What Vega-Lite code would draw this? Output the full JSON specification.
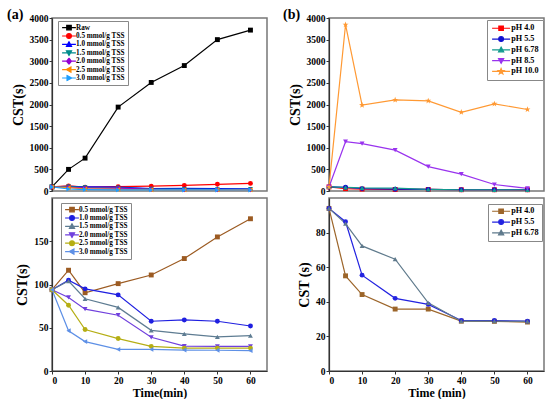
{
  "$schema": "https://vega.github.io/schema/vega-lite/v6.json",
  "padding": {"left": 6, "top": 7, "right": 4, "bottom": 2},
  "datasets": {
    "dose": [
      {"s": "Raw", "t": 0, "v": 94}, {"s": "Raw", "t": 5, "v": 500}, {"s": "Raw", "t": 10, "v": 760}, {"s": "Raw", "t": 20, "v": 1940}, {"s": "Raw", "t": 30, "v": 2510}, {"s": "Raw", "t": 40, "v": 2900}, {"s": "Raw", "t": 50, "v": 3500}, {"s": "Raw", "t": 60, "v": 3720},
      {"s": "0.5 mmol/g TSS", "t": 0, "v": 94}, {"s": "0.5 mmol/g TSS", "t": 5, "v": 116.5}, {"s": "0.5 mmol/g TSS", "t": 10, "v": 90.5}, {"s": "0.5 mmol/g TSS", "t": 20, "v": 101}, {"s": "0.5 mmol/g TSS", "t": 30, "v": 111}, {"s": "0.5 mmol/g TSS", "t": 40, "v": 130}, {"s": "0.5 mmol/g TSS", "t": 50, "v": 155}, {"s": "0.5 mmol/g TSS", "t": 60, "v": 176},
      {"s": "1.0 mmol/g TSS", "t": 0, "v": 94}, {"s": "1.0 mmol/g TSS", "t": 5, "v": 105}, {"s": "1.0 mmol/g TSS", "t": 10, "v": 95}, {"s": "1.0 mmol/g TSS", "t": 20, "v": 88}, {"s": "1.0 mmol/g TSS", "t": 30, "v": 57.5}, {"s": "1.0 mmol/g TSS", "t": 40, "v": 59}, {"s": "1.0 mmol/g TSS", "t": 50, "v": 57.5}, {"s": "1.0 mmol/g TSS", "t": 60, "v": 52},
      {"s": "1.5 mmol/g TSS", "t": 0, "v": 94}, {"s": "1.5 mmol/g TSS", "t": 5, "v": 104}, {"s": "1.5 mmol/g TSS", "t": 10, "v": 83.5}, {"s": "1.5 mmol/g TSS", "t": 20, "v": 73.5}, {"s": "1.5 mmol/g TSS", "t": 30, "v": 47}, {"s": "1.5 mmol/g TSS", "t": 40, "v": 43}, {"s": "1.5 mmol/g TSS", "t": 50, "v": 39.5}, {"s": "1.5 mmol/g TSS", "t": 60, "v": 41},
      {"s": "2.0 mmol/g TSS", "t": 0, "v": 94}, {"s": "2.0 mmol/g TSS", "t": 5, "v": 85}, {"s": "2.0 mmol/g TSS", "t": 10, "v": 71.5}, {"s": "2.0 mmol/g TSS", "t": 20, "v": 64.5}, {"s": "2.0 mmol/g TSS", "t": 30, "v": 39}, {"s": "2.0 mmol/g TSS", "t": 40, "v": 28.8}, {"s": "2.0 mmol/g TSS", "t": 50, "v": 28.5}, {"s": "2.0 mmol/g TSS", "t": 60, "v": 28.5},
      {"s": "2.5 mmol/g TSS", "t": 0, "v": 94}, {"s": "2.5 mmol/g TSS", "t": 5, "v": 76}, {"s": "2.5 mmol/g TSS", "t": 10, "v": 48}, {"s": "2.5 mmol/g TSS", "t": 20, "v": 37.5}, {"s": "2.5 mmol/g TSS", "t": 30, "v": 28.5}, {"s": "2.5 mmol/g TSS", "t": 40, "v": 26.5}, {"s": "2.5 mmol/g TSS", "t": 50, "v": 26.5}, {"s": "2.5 mmol/g TSS", "t": 60, "v": 26.5},
      {"s": "3.0 mmol/g TSS", "t": 0, "v": 94}, {"s": "3.0 mmol/g TSS", "t": 5, "v": 46.5}, {"s": "3.0 mmol/g TSS", "t": 10, "v": 34}, {"s": "3.0 mmol/g TSS", "t": 20, "v": 25}, {"s": "3.0 mmol/g TSS", "t": 30, "v": 25}, {"s": "3.0 mmol/g TSS", "t": 40, "v": 24.2}, {"s": "3.0 mmol/g TSS", "t": 50, "v": 24}, {"s": "3.0 mmol/g TSS", "t": 60, "v": 23.5}
    ],
    "ph": [
      {"s": "pH 4.0", "t": 0, "v": 94}, {"s": "pH 4.0", "t": 5, "v": 55}, {"s": "pH 4.0", "t": 10, "v": 44.2}, {"s": "pH 4.0", "t": 20, "v": 35.8}, {"s": "pH 4.0", "t": 30, "v": 35.8}, {"s": "pH 4.0", "t": 40, "v": 28.8}, {"s": "pH 4.0", "t": 50, "v": 28.7}, {"s": "pH 4.0", "t": 60, "v": 28.3},
      {"s": "pH 5.5", "t": 0, "v": 94}, {"s": "pH 5.5", "t": 5, "v": 86.3}, {"s": "pH 5.5", "t": 10, "v": 55.4}, {"s": "pH 5.5", "t": 20, "v": 42}, {"s": "pH 5.5", "t": 30, "v": 38.5}, {"s": "pH 5.5", "t": 40, "v": 29.2}, {"s": "pH 5.5", "t": 50, "v": 29.2}, {"s": "pH 5.5", "t": 60, "v": 28.8},
      {"s": "pH 6.78", "t": 0, "v": 94}, {"s": "pH 6.78", "t": 5, "v": 85.2}, {"s": "pH 6.78", "t": 10, "v": 72.3}, {"s": "pH 6.78", "t": 20, "v": 64.6}, {"s": "pH 6.78", "t": 30, "v": 39.4}, {"s": "pH 6.78", "t": 40, "v": 28.8}, {"s": "pH 6.78", "t": 50, "v": 28.8}, {"s": "pH 6.78", "t": 60, "v": 28.7},
      {"s": "pH 8.5", "t": 0, "v": 94}, {"s": "pH 8.5", "t": 5, "v": 1140}, {"s": "pH 8.5", "t": 10, "v": 1095}, {"s": "pH 8.5", "t": 20, "v": 945}, {"s": "pH 8.5", "t": 30, "v": 565}, {"s": "pH 8.5", "t": 40, "v": 390}, {"s": "pH 8.5", "t": 50, "v": 150}, {"s": "pH 8.5", "t": 60, "v": 60},
      {"s": "pH 10.0", "t": 0, "v": 94}, {"s": "pH 10.0", "t": 5, "v": 3845}, {"s": "pH 10.0", "t": 10, "v": 1985}, {"s": "pH 10.0", "t": 20, "v": 2105}, {"s": "pH 10.0", "t": 30, "v": 2085}, {"s": "pH 10.0", "t": 40, "v": 1820}, {"s": "pH 10.0", "t": 50, "v": 2015}, {"s": "pH 10.0", "t": 60, "v": 1885}
    ]
  },
  "config": {
    "font": "Liberation Serif",
    "view": {"stroke": "#777777", "strokeWidth": 1.5},
    "axis": {"labelFont": "Liberation Serif", "labelFontWeight": "bold", "labelFontSize": 9.5, "labelColor": "#000", "titleFont": "Liberation Serif", "titleFontWeight": "bold", "titleColor": "#000", "grid": false, "tickSize": 3, "labelPadding": 1, "domainColor": "#333", "domainWidth": 1.2, "tickColor": "#333", "format": "d"},
    "legend": {"labelFont": "Liberation Serif", "labelFontWeight": "bold", "labelColor": "#000", "strokeColor": "#888", "fillColor": "white", "padding": 4, "symbolSize": 36, "symbolOffset": 4, "orient": "none"},
    "title": {"font": "Liberation Serif", "fontSize": 14, "fontWeight": "bold", "color": "#000"},
    "line": {"strokeWidth": 1.2},
    "point": {"filled": true, "opacity": 1, "size": 24}
  },
  "spacing": 14,
  "resolve": {"scale": {"color": "independent", "x": "independent", "y": "independent"}, "legend": {"color": "independent"}},
  "hconcat": [
    {
      "spacing": 0,
      "resolve": {"scale": {"color": "independent", "x": "independent", "y": "independent"}, "legend": {"color": "independent"}},
      "vconcat": [
        {
          "width": 215, "height": 173,
          "title": {"text": "(a)", "anchor": "start", "frame": "group", "dx": -45, "offset": -9},
          "data": {"name": "dose"},
          "encoding": {
            "x": {"field": "t", "type": "quantitative", "scale": {"domain": [0, 65], "nice": false}, "axis": null},
            "y": {"field": "v", "type": "quantitative", "scale": {"domain": [0, 4000], "nice": false}, "axis": {"title": "CST(s)", "titleFontSize": 14, "titlePadding": 4, "values": [0, 500, 1000, 1500, 2000, 2500, 3000, 3500, 4000]}},
            "color": {"field": "s", "type": "nominal", "scale": {"domain": ["Raw", "0.5 mmol/g TSS", "1.0 mmol/g TSS", "1.5 mmol/g TSS", "2.0 mmol/g TSS", "2.5 mmol/g TSS", "3.0 mmol/g TSS"], "range": ["#000000", "#FF0000", "#0000FF", "#008B8B", "#9400D3", "#FF8C00", "#1E9FFF"]},
              "legend": {"title": null, "legendX": 6, "legendY": 3, "labelFontSize": 7.2, "clipHeight": 7.2, "rowPadding": -0.6, "labelOffset": 3, "padding": 3, "encode": {"symbols": {"update": {
                "shape": {"signal": "['M-2.3,0H2.3M-0.75,-0.75H0.75V0.75H-0.75Z','M-2.3,0H2.3M-0.8,0A0.8,0.8,0,1,1,0.8,0A0.8,0.8,0,1,1,-0.8,0Z','M-2.3,0H2.3M0,-0.9L0.85,0.65H-0.85Z','M-2.3,0H2.3M0,0.9L0.85,-0.65H-0.85Z','M-2.3,0H2.3M0,-1L0.8,0L0,1L-0.8,0Z','M-2.3,0H2.3M-0.9,0L0.65,-0.85V0.85Z','M-2.3,0H2.3M0.9,0L-0.65,-0.85V0.85Z'][indexof(['Raw','0.5 mmol/g TSS','1.0 mmol/g TSS','1.5 mmol/g TSS','2.0 mmol/g TSS','2.5 mmol/g TSS','3.0 mmol/g TSS'], datum.value)]"},
                "fill": {"signal": "['#000000','#FF0000','#0000FF','#008B8B','#9400D3','#FF8C00','#1E9FFF'][indexof(['Raw','0.5 mmol/g TSS','1.0 mmol/g TSS','1.5 mmol/g TSS','2.0 mmol/g TSS','2.5 mmol/g TSS','3.0 mmol/g TSS'], datum.value)]"},
                "stroke": {"signal": "['#000000','#FF0000','#0000FF','#008B8B','#9400D3','#FF8C00','#1E9FFF'][indexof(['Raw','0.5 mmol/g TSS','1.0 mmol/g TSS','1.5 mmol/g TSS','2.0 mmol/g TSS','2.5 mmol/g TSS','3.0 mmol/g TSS'], datum.value)]"},
                "strokeWidth": {"value": 1.2}, "opacity": {"value": 1}}}}}}
          },
          "layer": [
            {"mark": {"type": "line"}},
            {"transform": [{"filter": "datum.s === 'Raw'"}], "mark": {"type": "point", "shape": "square"}},
            {"transform": [{"filter": "datum.s === '0.5 mmol/g TSS'"}], "mark": {"type": "point", "shape": "circle"}},
            {"transform": [{"filter": "datum.s === '1.0 mmol/g TSS'"}], "mark": {"type": "point", "shape": "triangle-up"}},
            {"transform": [{"filter": "datum.s === '1.5 mmol/g TSS'"}], "mark": {"type": "point", "shape": "triangle-down"}},
            {"transform": [{"filter": "datum.s === '2.0 mmol/g TSS'"}], "mark": {"type": "point", "shape": "diamond"}},
            {"transform": [{"filter": "datum.s === '2.5 mmol/g TSS'"}], "mark": {"type": "point", "shape": "triangle-left"}},
            {"transform": [{"filter": "datum.s === '3.0 mmol/g TSS'"}], "mark": {"type": "point", "shape": "triangle-right"}}
          ]
        },
        {
          "width": 215, "height": 173,
          "data": {"name": "dose"},
          "transform": [{"filter": "datum.s !== 'Raw'"}],
          "encoding": {
            "x": {"field": "t", "type": "quantitative", "scale": {"domain": [0, 65], "nice": false}, "axis": {"title": "Time(min)", "titleFontSize": 12, "titlePadding": 3, "values": [0, 10, 20, 30, 40, 50, 60]}},
            "y": {"field": "v", "type": "quantitative", "scale": {"domain": [0, 200], "nice": false}, "axis": {"title": "CST(s)", "titleFontSize": 14, "titlePadding": 4, "values": [0, 50, 100, 150]}},
            "color": {"field": "s", "type": "nominal", "scale": {"domain": ["0.5 mmol/g TSS", "1.0 mmol/g TSS", "1.5 mmol/g TSS", "2.0 mmol/g TSS", "2.5 mmol/g TSS", "3.0 mmol/g TSS"], "range": ["#9C5B22", "#1F1FE0", "#5E7C92", "#7040DD", "#B5AE14", "#5E90E6"]},
              "legend": {"title": null, "legendX": 9, "legendY": 5, "labelFontSize": 7.2, "clipHeight": 7.2, "rowPadding": -0.6, "labelOffset": 3, "padding": 3, "encode": {"symbols": {"update": {
                "shape": {"signal": "['M-2.3,0H2.3M-0.75,-0.75H0.75V0.75H-0.75Z','M-2.3,0H2.3M-0.8,0A0.8,0.8,0,1,1,0.8,0A0.8,0.8,0,1,1,-0.8,0Z','M-2.3,0H2.3M0,-0.9L0.85,0.65H-0.85Z','M-2.3,0H2.3M0,0.9L0.85,-0.65H-0.85Z','M-2.3,0H2.3M-0.8,0A0.8,0.8,0,1,1,0.8,0A0.8,0.8,0,1,1,-0.8,0Z','M-2.3,0H2.3M-0.9,0L0.65,-0.85V0.85Z'][indexof(['0.5 mmol/g TSS','1.0 mmol/g TSS','1.5 mmol/g TSS','2.0 mmol/g TSS','2.5 mmol/g TSS','3.0 mmol/g TSS'], datum.value)]"},
                "fill": {"signal": "['#9C5B22','#1F1FE0','#5E7C92','#7040DD','#B5AE14','#5E90E6'][indexof(['0.5 mmol/g TSS','1.0 mmol/g TSS','1.5 mmol/g TSS','2.0 mmol/g TSS','2.5 mmol/g TSS','3.0 mmol/g TSS'], datum.value)]"},
                "stroke": {"signal": "['#9C5B22','#1F1FE0','#5E7C92','#7040DD','#B5AE14','#5E90E6'][indexof(['0.5 mmol/g TSS','1.0 mmol/g TSS','1.5 mmol/g TSS','2.0 mmol/g TSS','2.5 mmol/g TSS','3.0 mmol/g TSS'], datum.value)]"},
                "strokeWidth": {"value": 1.2}, "opacity": {"value": 1}}}}}}
          },
          "layer": [
            {"mark": {"type": "line"}},
            {"transform": [{"filter": "datum.s === '0.5 mmol/g TSS'"}], "mark": {"type": "point", "shape": "square"}},
            {"transform": [{"filter": "datum.s === '1.0 mmol/g TSS'"}], "mark": {"type": "point", "shape": "circle"}},
            {"transform": [{"filter": "datum.s === '1.5 mmol/g TSS'"}], "mark": {"type": "point", "shape": "triangle-up"}},
            {"transform": [{"filter": "datum.s === '2.0 mmol/g TSS'"}], "mark": {"type": "point", "shape": "triangle-down"}},
            {"transform": [{"filter": "datum.s === '2.5 mmol/g TSS'"}], "mark": {"type": "point", "shape": "circle"}},
            {"transform": [{"filter": "datum.s === '3.0 mmol/g TSS'"}], "mark": {"type": "point", "shape": "triangle-left"}}
          ]
        }
      ]
    },
    {
      "spacing": 0,
      "resolve": {"scale": {"color": "independent", "x": "independent", "y": "independent"}, "legend": {"color": "independent"}},
      "vconcat": [
        {
          "width": 215, "height": 173,
          "title": {"text": "(b)", "anchor": "start", "frame": "group", "dx": -46, "offset": -9},
          "data": {"name": "ph"},
          "encoding": {
            "x": {"field": "t", "type": "quantitative", "scale": {"domain": [0, 65], "nice": false}, "axis": null},
            "y": {"field": "v", "type": "quantitative", "scale": {"domain": [0, 4000], "nice": false}, "axis": {"title": "CST(s)", "titleFontSize": 14, "titlePadding": 4, "values": [0, 500, 1000, 1500, 2000, 2500, 3000, 3500, 4000]}},
            "color": {"field": "s", "type": "nominal", "scale": {"domain": ["pH 4.0", "pH 5.5", "pH 6.78", "pH 8.5", "pH 10.0"], "range": ["#FF0000", "#1010D0", "#129A8E", "#9933EE", "#FF9933"]},
              "legend": {"title": null, "legendX": 158, "legendY": 2, "labelFontSize": 8.2, "clipHeight": 8.5, "rowPadding": 0.8, "labelOffset": 6, "padding": 4, "symbolOffset": 6, "encode": {"symbols": {"update": {
                "shape": {"signal": "['M-3,0H3M-0.75,-0.75H0.75V0.75H-0.75Z','M-3,0H3M-0.8,0A0.8,0.8,0,1,1,0.8,0A0.8,0.8,0,1,1,-0.8,0Z','M-3,0H3M0,-0.9L0.85,0.65H-0.85Z','M-3,0H3M0,0.9L0.85,-0.65H-0.85Z','M-3,0H3M0,-1L0.235,-0.324L0.951,-0.309L0.38,0.124L0.588,0.809L0,0.4L-0.588,0.809L-0.38,0.124L-0.951,-0.309L-0.235,-0.324Z'][indexof(['pH 4.0','pH 5.5','pH 6.78','pH 8.5','pH 10.0'], datum.value)]"},
                "fill": {"signal": "['#FF0000','#1010D0','#129A8E','#9933EE','#FF9933'][indexof(['pH 4.0','pH 5.5','pH 6.78','pH 8.5','pH 10.0'], datum.value)]"},
                "stroke": {"signal": "['#FF0000','#1010D0','#129A8E','#9933EE','#FF9933'][indexof(['pH 4.0','pH 5.5','pH 6.78','pH 8.5','pH 10.0'], datum.value)]"},
                "strokeWidth": {"value": 1.2}, "opacity": {"value": 1}}}}}}
          },
          "layer": [
            {"mark": {"type": "line"}},
            {"transform": [{"filter": "datum.s === 'pH 4.0'"}], "mark": {"type": "point", "shape": "square"}},
            {"transform": [{"filter": "datum.s === 'pH 5.5'"}], "mark": {"type": "point", "shape": "circle"}},
            {"transform": [{"filter": "datum.s === 'pH 6.78'"}], "mark": {"type": "point", "shape": "triangle-up"}},
            {"transform": [{"filter": "datum.s === 'pH 8.5'"}], "mark": {"type": "point", "shape": "triangle-down"}},
            {"transform": [{"filter": "datum.s === 'pH 10.0'"}], "mark": {"type": "point", "size": 40, "shape": "M0,-1L0.235,-0.324L0.951,-0.309L0.38,0.124L0.588,0.809L0,0.4L-0.588,0.809L-0.38,0.124L-0.951,-0.309L-0.235,-0.324Z"}}
          ]
        },
        {
          "width": 215, "height": 173,
          "data": {"name": "ph"},
          "transform": [{"filter": "datum.s === 'pH 4.0' || datum.s === 'pH 5.5' || datum.s === 'pH 6.78'"}],
          "encoding": {
            "x": {"field": "t", "type": "quantitative", "scale": {"domain": [0, 65], "nice": false}, "axis": {"title": "Time (min)", "titleFontSize": 12, "titlePadding": 3, "values": [0, 10, 20, 30, 40, 50, 60]}},
            "y": {"field": "v", "type": "quantitative", "scale": {"domain": [0, 100], "nice": false}, "axis": {"title": "CST (s)", "titleFontSize": 14, "titlePadding": 4, "values": [0, 20, 40, 60, 80]}},
            "color": {"field": "s", "type": "nominal", "scale": {"domain": ["pH 4.0", "pH 5.5", "pH 6.78"], "range": ["#9C652A", "#2323E0", "#5F7A8C"]},
              "legend": {"title": null, "legendX": 159, "legendY": 6, "labelFontSize": 8.2, "clipHeight": 8.5, "rowPadding": 0.8, "labelOffset": 6, "padding": 3, "symbolOffset": 6, "encode": {"symbols": {"update": {
                "shape": {"signal": "['M-3,0H3M-0.75,-0.75H0.75V0.75H-0.75Z','M-3,0H3M-0.8,0A0.8,0.8,0,1,1,0.8,0A0.8,0.8,0,1,1,-0.8,0Z','M-3,0H3M0,-0.9L0.85,0.65H-0.85Z'][indexof(['pH 4.0','pH 5.5','pH 6.78'], datum.value)]"},
                "fill": {"signal": "['#9C652A','#2323E0','#5F7A8C'][indexof(['pH 4.0','pH 5.5','pH 6.78'], datum.value)]"},
                "stroke": {"signal": "['#9C652A','#2323E0','#5F7A8C'][indexof(['pH 4.0','pH 5.5','pH 6.78'], datum.value)]"},
                "strokeWidth": {"value": 1.2}, "opacity": {"value": 1}}}}}}
          },
          "layer": [
            {"mark": {"type": "line"}},
            {"transform": [{"filter": "datum.s === 'pH 4.0'"}], "mark": {"type": "point", "shape": "square"}},
            {"transform": [{"filter": "datum.s === 'pH 5.5'"}], "mark": {"type": "point", "shape": "circle"}},
            {"transform": [{"filter": "datum.s === 'pH 6.78'"}], "mark": {"type": "point", "shape": "triangle-up"}}
          ]
        }
      ]
    }
  ]
}
